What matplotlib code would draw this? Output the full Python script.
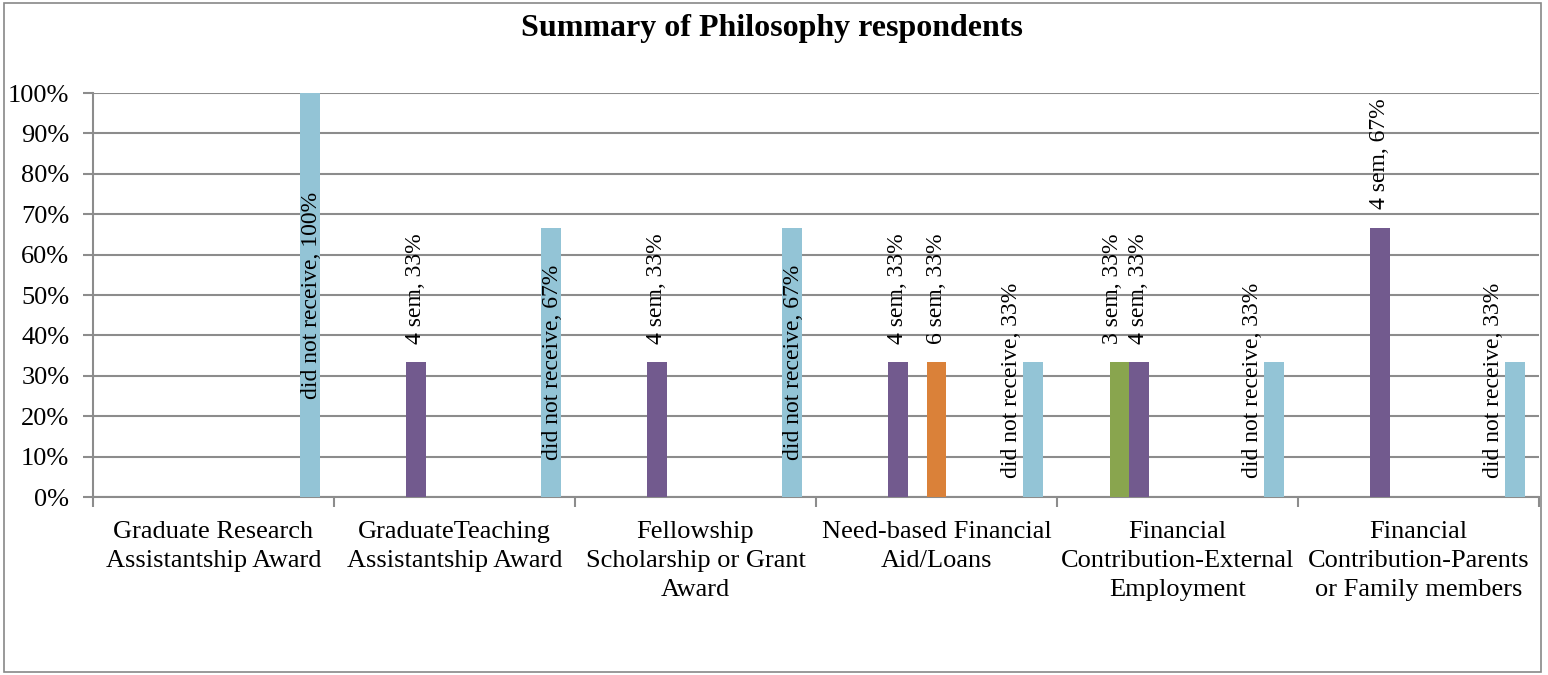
import matplotlib
matplotlib.use("Agg")
import matplotlib.pyplot as plt
import numpy as np

# categories shown along the x axis
categories = [
    "Graduate Research\nAssistantship Award",
    "GraduateTeaching\nAssistantship Award",
    "Fellowship\nScholarship or Grant\nAward",
    "Need-based Financial\nAid/Loans",
    "Financial\nContribution-External\nEmployment",
    "Financial\nContribution-Parents\nor Family members",
]

# one series per number of semesters, plus "did not receive"
series_names = ["1 sem", "2 sem", "3 sem", "4 sem", "5 sem", "6 sem",
                "7 sem", "8 sem", "9 sem", "10 sem", "did not receive"]
sem1 = [0, 0, 0, 0, 0, 0]
sem2 = [0, 0, 0, 0, 0, 0]
sem3 = [0, 0, 0, 0, 1 / 3, 0]
sem4 = [0, 1 / 3, 1 / 3, 1 / 3, 1 / 3, 2 / 3]
sem5 = [0, 0, 0, 0, 0, 0]
sem6 = [0, 0, 0, 1 / 3, 0, 0]
sem7 = [0, 0, 0, 0, 0, 0]
sem8 = [0, 0, 0, 0, 0, 0]
sem9 = [0, 0, 0, 0, 0, 0]
sem10 = [0, 0, 0, 0, 0, 0]
not_received = [1.0, 2 / 3, 2 / 3, 1 / 3, 1 / 3, 1 / 3]

values = [sem1, sem2, sem3, sem4, sem5, sem6, sem7, sem8, sem9, sem10, not_received]
colors = ["#4F81BD", "#C0504D", "#89A54E", "#725A8E", "#4BACC6", "#DA8139",
          "#2C4D75", "#772C2A", "#5F7530", "#4D3B62", "#93C4D6"]

plt.rcParams["font.family"] = ["Liberation Serif", "DejaVu Serif"]

fig = plt.figure(figsize=(15.48, 6.75), dpi=100)
ax = fig.add_axes([93 / 1548, 178 / 675, 1446 / 1548, 404 / 675])

# outer chart border
fig.patches.append(plt.Rectangle((4 / 1548, 3 / 675), 1537 / 1548, 669 / 675,
                                 transform=fig.transFigure, fill=False,
                                 edgecolor="#878787", linewidth=1.2))

n = len(series_names)
gap = 1.5
w = 1 / (n + gap)
x = np.arange(len(categories))

for i, (name, vals, col) in enumerate(zip(series_names, values, colors)):
    pos = x + gap / 2 * w + (i + 0.5) * w
    ax.bar(pos, vals, width=w, color=col, zorder=3)
    for p, v in zip(pos, vals):
        if v == 0:
            continue
        label = f"{name}, {v:.0%}"
        if name == "did not receive":
            if v > 0.5:
                # long label does not fit above the bar: put it in the middle
                ax.text(p + 0.1 * w, v / 2, label, rotation=90, ha="center",
                        va="center", fontsize=17, zorder=4)
            else:
                ax.text(p - 1.1 * w, v - 0.045, label, rotation=90, ha="center",
                        va="center", fontsize=17, zorder=4)
        else:
            # neighbouring bar to the right: nudge the label left a little
            shift = -0.35 * w if name == "3 sem" else 0
            ax.text(p + shift, v + 0.045, label, rotation=90, ha="center",
                    va="bottom", fontsize=17, zorder=4)

ax.set_xlim(0, len(categories))
ax.set_ylim(0, 1)
ax.set_yticks(np.arange(0, 1.01, 0.1))
ax.set_yticklabels([f"{t}%" for t in range(0, 101, 10)])
ax.yaxis.grid(True, color="#8C8C8C", linewidth=1.5, zorder=0)

ax.set_xticks(x + 0.5)
ax.set_xticklabels(categories, linespacing=1.42)
ax.set_xticks(np.arange(len(categories) + 1), minor=True)
ax.tick_params(axis="x", which="major", length=0, pad=17, labelsize=19)
ax.tick_params(axis="x", which="minor", length=7, color="#8C8C8C", width=1.5)
ax.tick_params(axis="y", length=7, color="#8C8C8C", width=1.5, labelsize=19, pad=10)

for s in ["top", "right"]:
    ax.spines[s].set_visible(False)
for s in ["left", "bottom"]:
    ax.spines[s].set_color("#8C8C8C")
    ax.spines[s].set_linewidth(1.5)

fig.text(0.4985, 0.958, "Summary of Philosophy respondents", ha="center",
         va="center", fontsize=23, fontweight="bold")

fig.savefig("out.png", dpi=100)
